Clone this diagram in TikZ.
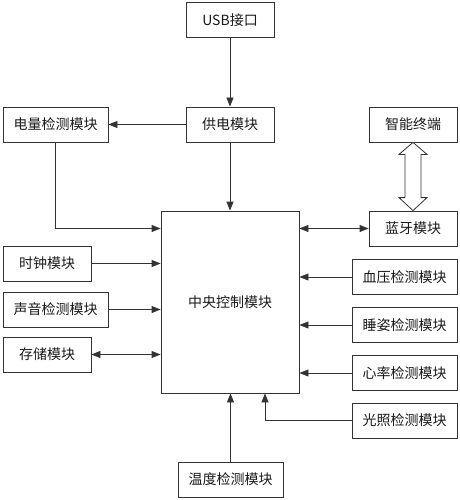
\documentclass[tikz,border=0pt]{standalone}
\usepackage{fontspec}
\newfontfamily\cjk{Noto Sans CJK SC}
\usetikzlibrary{arrows.meta,calc}
\begin{document}
\begin{tikzpicture}[x=1pt,y=-1pt,
  box/.style={draw=black!80,line width=0.8pt,inner sep=0pt,font=\cjk\fontsize{14}{16}\selectfont,text=black!90},
  sbox/.style={box,minimum width=88pt,minimum height=35pt},
  lbox/.style={box,minimum width=105pt,minimum height=35pt},
  conn/.style={draw=black!80,line width=0.8pt,-{Triangle[length=9pt,width=7pt]}},
  bconn/.style={draw=black!80,line width=0.8pt,{Triangle[length=9pt,width=7pt]}-{Triangle[length=9pt,width=7pt]}}]
\useasboundingbox (0,0) rectangle (459,500);
\node[sbox] (usb) at (230,20) {USB接口};
\node[sbox] (gd) at (230,124.5) {供电模块};
\node[lbox] (dl) at (55.5,124.5) {电量检测模块};
\node[sbox] (zn) at (413,124.5) {智能终端};
\node[box,minimum width=138pt,minimum height=182pt] (cc) at (230,302) {};
\node[font=\cjk\fontsize{14}{16}\selectfont,text=black!90] (cct) at (230,302) {中央控制模块};
\node[sbox] (ly) at (413,228.5) {蓝牙模块};
\node[sbox] (sz) at (47,263.5) {时钟模块};
\node[lbox] (sy) at (55.5,309.5) {声音检测模块};
\node[sbox] (cu) at (47,354.5) {存储模块};
\node[lbox] (xy) at (404.5,277) {血压检测模块};
\node[lbox] (sz2) at (404.5,325) {睡姿检测模块};
\node[lbox] (xl) at (404.5,373) {心率检测模块};
\node[lbox] (gz) at (404.5,420.5) {光照检测模块};
\node[lbox] (wd) at (230.5,479.5) {温度检测模块};
\coordinate (gzin) at ($(cc.south)+(35,0)$);
\draw[conn] (usb.south) -- (gd.north);
\draw[conn] (gd.west) -- (dl.east);
\draw[conn] (gd.south) -- (cc.north);
\draw[conn] (dl.south) |- (cc.west |- ly.west);
\draw[bconn] (cc.east |- ly.west) -- (ly.west);
\draw[conn] (sz.east) -- (cc.west |- sz.east);
\draw[conn] (sy.east) -- (cc.west |- sy.east);
\draw[bconn] (cu.east) -- (cc.west |- cu.east);
\draw[conn] (xy.west) -- (cc.east |- xy.west);
\draw[conn] (sz2.west) -- (cc.east |- sz2.west);
\draw[conn] (xl.west) -- (cc.east |- xl.west);
\draw[conn] (gz.west) -| (gzin);
\draw[conn] (wd.north) -- (wd.north |- cc.south);
\draw[draw=black!80,line width=0.8pt,fill=white]
  (zn.south) -- ($(zn.south)+(14,12)$) -- ($(zn.south)+(8,12)$) -- ($(ly.north)+(8,-13)$) -- ($(ly.north)+(14,-13)$) -- (ly.north)
  -- ($(ly.north)+(-14,-13)$) -- ($(ly.north)+(-8,-13)$) -- ($(zn.south)+(-8,12)$) -- ($(zn.south)+(-14,12)$) -- cycle;
\end{tikzpicture}
\end{document}
